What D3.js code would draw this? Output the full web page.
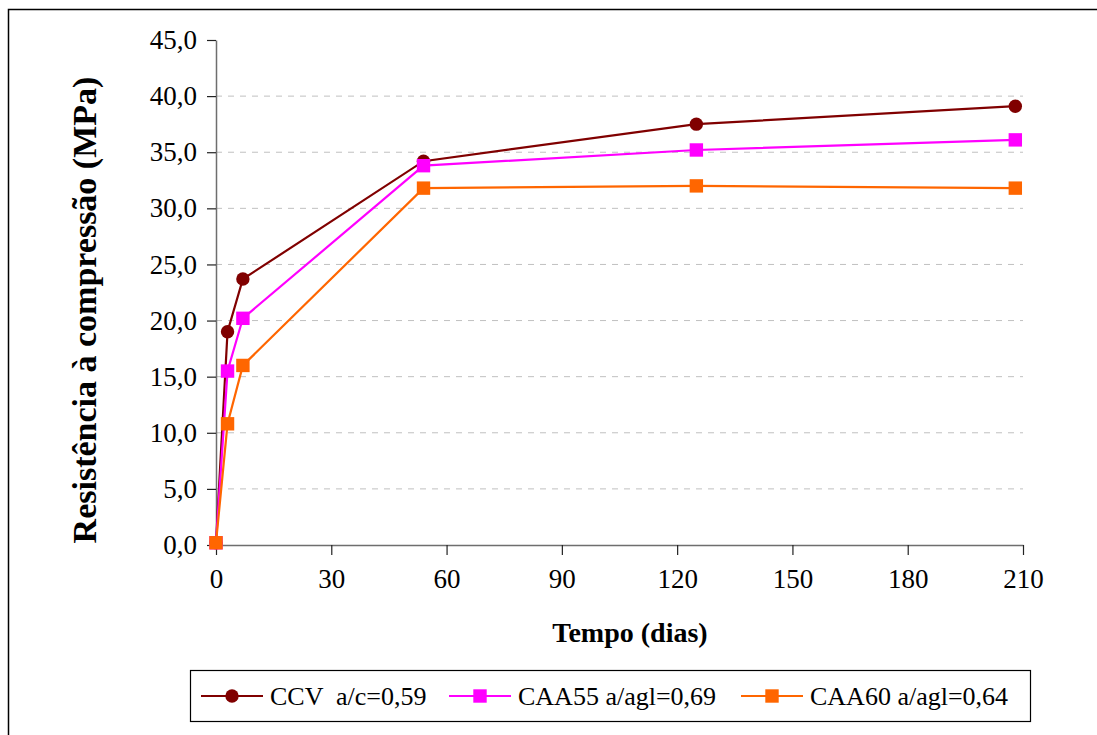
<!DOCTYPE html>
<html>
<head>
<meta charset="utf-8">
<script src="https://cdn.jsdelivr.net/npm/d3@7/dist/d3.min.js"></script>
<style>
  body { margin: 0; background: #fff; }
  svg text { font-family: "Liberation Serif", "Times New Roman", Times, serif !important; }
</style>
</head>
<body>
<div id="chart"></div>
<script>
// dias de ensaio
var days = [0, 3, 7, 54, 125, 208];
var ccv = [0.2, 19.0, 23.7, 34.2, 37.5, 39.1];
var caa55 = [0.2, 15.5, 20.2, 33.8, 35.2, 36.1];
var caa60 = [0.2, 10.8, 16.0, 31.8, 32.0, 31.8];
var seriesNames = ['CCV  a/c=0,59', 'CAA55 a/agl=0,69', 'CAA60 a/agl=0,64'];
var xTicks = [0, 30, 60, 90, 120, 150, 180, 210];
var yTicks = [0, 5, 10, 15, 20, 25, 30, 35, 40, 45];

var width = 1097, height = 735;

var series = [
    {name: seriesNames[0], values: ccv, color: '#800000', shape: 'circle'},
    {name: seriesNames[1], values: caa55, color: '#FF00FF', shape: 'square'},
    {name: seriesNames[2], values: caa60, color: '#FF6600', shape: 'square'}
];

var svg = d3.select('#chart').append('svg')
    .attr('width', width)
    .attr('height', height);

// moldura externa
svg.append('rect')
    .attr('x', 8.5).attr('y', 9.5)
    .attr('width', width + 20).attr('height', height + 20)
    .attr('fill', 'none')
    .attr('stroke', '#000')
    .attr('stroke-width', 1.5);

var xScale = d3.scaleLinear().domain([0, 210]).range([216, 1023]);
var yScale = d3.scaleLinear().domain([0, 45]).range([545, 40]);

// grade
svg.append('g').selectAll('line')
    .data(yTicks.filter(function(d) { return d > 0 && d < 45; }))
    .enter().append('line')
    .attr('x1', xScale(0)).attr('x2', xScale(210))
    .attr('y1', function(d) { return yScale(d); })
    .attr('y2', function(d) { return yScale(d); })
    .attr('stroke', '#c0c0c0')
    .attr('stroke-width', 1)
    .attr('stroke-dasharray', '6,6');

//y axis
var yAxis = d3.axisLeft(yScale)
    .tickValues(yTicks)
    .tickSizeInner(9)
    .tickSizeOuter(0)
    .tickPadding(10)
    .tickFormat(function(d) { return d3.format('.1f')(d).replace('.', ','); });

var gy = svg.append('g')
    .attr('transform', 'translate(' + xScale(0) + ',0)')
    .call(yAxis);

//X Axis
var xAxis = d3.axisBottom(xScale)
    .tickValues(xTicks)
    .tickSizeInner(10)
    .tickSizeOuter(0)
    .tickPadding(14)
    .tickFormat(d3.format('d'));

var gx = svg.append('g')
    .attr('transform', 'translate(0,' + yScale(0) + ')')
    .call(xAxis);

[gx, gy].forEach(function(g) {
    g.attr('font-size', 27);
    g.select('.domain').attr('stroke', '#6e6e6e').attr('stroke-width', 1.5);
    g.selectAll('.tick line').attr('stroke', '#222').attr('stroke-width', 1.2);
    g.selectAll('.tick text').attr('fill', '#000');
});

// titulos dos eixos
svg.append('text')
    .attr('x', 630).attr('y', 642)
    .attr('text-anchor', 'middle')
    .attr('font-size', 28)
    .attr('font-weight', 'bold')
    .text('Tempo (dias)');

svg.append('text')
    .attr('transform', 'translate(96,' + 310 + ') rotate(-90)')
    .attr('text-anchor', 'middle')
    .attr('font-size', 34)
    .attr('font-weight', 'bold')
    .text('Resistência à compressão (MPa)');

// linhas
var lineFunction = d3.line()
    .x(function(d, i) { return xScale(days[i]); })
    .y(function(d) { return yScale(d); });

function drawMarker(sel, s, cx, cy) {
    if (s.shape === 'circle') {
        sel.append('circle')
            .attr('cx', cx).attr('cy', cy).attr('r', 6.7)
            .attr('fill', s.color);
    } else {
        sel.append('rect')
            .attr('x', cx - 6.7).attr('y', cy - 6.7)
            .attr('width', 13.4).attr('height', 13.4)
            .attr('fill', s.color);
    }
}

// ordem do Excel: CCV, CAA55, CAA60 por cima
series.forEach(function(s) {
    var g = svg.append('g');
    g.append('path')
        .attr('d', lineFunction(s.values))
        .attr('stroke', s.color)
        .attr('stroke-width', 2.2)
        .attr('fill', 'none');
    s.values.forEach(function(v, i) {
        drawMarker(g, s, xScale(days[i]), yScale(v));
    });
});

// legenda
var legend = svg.append('g');
legend.append('rect')
    .attr('x', 190.5).attr('y', 670.5)
    .attr('width', 840).attr('height', 51)
    .attr('fill', '#fff')
    .attr('stroke', '#000')
    .attr('stroke-width', 1.2);

var legendX = [201, 449, 741];
series.forEach(function(s, i) {
    var lx = legendX[i];
    legend.append('line')
        .attr('x1', lx).attr('x2', lx + 62)
        .attr('y1', 696).attr('y2', 696)
        .attr('stroke', s.color)
        .attr('stroke-width', 2.2);
    drawMarker(legend, s, lx + 31, 696);
    legend.append('text')
        .attr('x', lx + 69).attr('y', 705)
        .attr('xml:space', 'preserve')
        .style('white-space', 'pre')
        .attr('font-size', 26)
        .text(s.name);
});
</script>
</body>
</html>
